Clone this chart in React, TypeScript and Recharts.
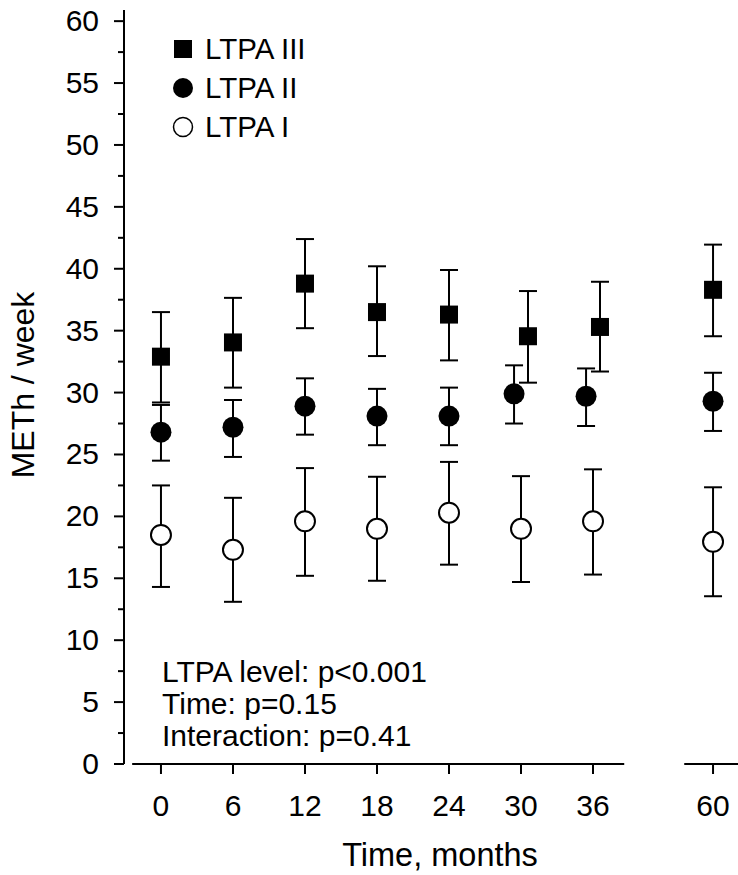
import React from "react";
import {
  ScatterChart,
  Scatter,
  XAxis,
  YAxis,
  ErrorBar,
  ReferenceLine,
  Legend,
} from "recharts";

const FONT = '"Liberation Sans", Arial, Helvetica, sans-serif';

// months of follow-up
const months = [0, 6, 12, 18, 24, 30, 36, 60];

// LTPA III (filled squares): mean and error bar ends
const ltpa3Mean = [32.9, 34.05, 38.8, 36.5, 36.3, 34.55, 35.3, 38.3];
const ltpa3Low = [29.2, 30.4, 35.2, 32.95, 32.6, 30.8, 31.7, 34.55];
const ltpa3High = [36.5, 37.65, 42.4, 40.2, 39.9, 38.2, 38.95, 41.95];

// LTPA II (filled circles)
const ltpa2Mean = [26.8, 27.2, 28.9, 28.1, 28.1, 29.9, 29.7, 29.3];
const ltpa2Low = [24.5, 24.8, 26.6, 25.75, 25.75, 27.5, 27.3, 26.9];
const ltpa2High = [29.0, 29.4, 31.15, 30.3, 30.4, 32.2, 31.95, 31.6];

// LTPA I (open circles)
const ltpa1Mean = [18.5, 17.3, 19.6, 19.0, 20.3, 19.0, 19.6, 17.95];
const ltpa1Low = [14.3, 13.1, 15.2, 14.8, 16.1, 14.7, 15.3, 13.55];
const ltpa1High = [22.5, 21.5, 23.9, 23.2, 24.4, 23.25, 23.8, 22.35];

const yTicks = [
  0, 2.5, 5, 7.5, 10, 12.5, 15, 17.5, 20, 22.5, 25, 27.5, 30, 32.5, 35, 37.5,
  40, 42.5, 45, 47.5, 50, 52.5, 55, 57.5, 60,
];

const legendLabels = ["LTPA III", "LTPA II", "LTPA I"];
const statsLines = [
  "LTPA level: p<0.001",
  "Time: p=0.15",
  "Interaction: p=0.41",
];

// broken x axis: everything after 36 months is squeezed
const BREAK_AT = 36;
const BREAK_SQUEEZE = 10 / 24;
const pos = (m: number) =>
  m <= BREAK_AT ? m : BREAK_AT + (m - BREAK_AT) * BREAK_SQUEEZE;
const X_DOMAIN: [number, number] = [-3.08, 48.08];
const axisSegments = [
  [-2.4, 38.6],
  [43.6, 48.08],
];

// overlapping groups get nudged sideways
const DODGED = [30, 36];
const DODGE = 0.58;

const build = (mean: number[], low: number[], high: number[], side: number) =>
  months.map((m, i) => ({
    x: pos(m) + (DODGED.includes(m) ? side * DODGE : 0),
    y: mean[i],
    err: [mean[i] - low[i], high[i] - mean[i]],
  }));

const ltpa3 = build(ltpa3Mean, ltpa3Low, ltpa3High, 1);
const ltpa2 = build(ltpa2Mean, ltpa2Low, ltpa2High, -1);
const ltpa1 = build(ltpa1Mean, ltpa1Low, ltpa1High, 0);

const xTicks = months.map(pos);
const monthLabel = (v: number) => {
  const m = months.find((mm) => Math.abs(pos(mm) - v) < 1e-6);
  return m === undefined ? "" : String(m);
};

const SquareShape = (p: any) => (
  <rect x={p.cx - 9} y={p.cy - 9} width={18} height={18} fill="#000" />
);
const DotShape = (p: any) => <circle cx={p.cx} cy={p.cy} r={10.5} fill="#000" />;
const OpenShape = (p: any) => (
  <circle cx={p.cx} cy={p.cy} r={10} fill="#fff" stroke="#000" strokeWidth={2} />
);

const YTick = (p: any) => {
  const v = p.payload.value;
  const major = v % 5 === 0;
  return (
    <g>
      <line
        x1={p.x - (major ? 10 : 6)}
        x2={p.x}
        y1={p.y}
        y2={p.y}
        stroke="#000"
        strokeWidth={2}
      />
      {major && (
        <text
          x={p.x - 25}
          y={p.y + 10}
          textAnchor="end"
          fontSize={30}
          fontFamily={FONT}
          fill="#000"
        >
          {v}
        </text>
      )}
    </g>
  );
};

const XTick = (p: any) => (
  <g>
    <line x1={p.x} x2={p.x} y1={p.y} y2={p.y + 10} stroke="#000" strokeWidth={2} />
    <text
      x={p.x}
      y={p.y + 52}
      textAnchor="middle"
      fontSize={30}
      fontFamily={FONT}
      fill="#000"
    >
      {monthLabel(p.payload.value)}
    </text>
  </g>
);

const LegendBox = () => {
  const rows = [49, 88, 127];
  return (
    <svg width={400} height={150} style={{ display: "block" }}>
      <rect x={174} y={rows[0] - 9} width={18} height={18} fill="#000" />
      <circle cx={183} cy={rows[1]} r={10} fill="#000" />
      <circle cx={183} cy={rows[2]} r={9.5} fill="#fff" stroke="#000" strokeWidth={1.5} />
      {legendLabels.map((t, i) => (
        <text
          key={t}
          x={205}
          y={rows[i] + 10}
          fontSize={29.5}
          fontFamily={FONT}
          fill="#000"
        >
          {t}
        </text>
      ))}
    </svg>
  );
};

export default function App() {
  return (
    <div
      style={{
        position: "absolute",
        left: 0,
        top: 0,
        width: 738,
        height: 875,
        background: "#fff",
        fontFamily: FONT,
      }}
    >
      <ScatterChart
        width={738}
        height={875}
        margin={{ top: 10, right: 0, bottom: 0, left: 0 }}
      >
        <XAxis
          type="number"
          dataKey="x"
          domain={X_DOMAIN}
          ticks={xTicks}
          interval={0}
          allowDataOverflow
          axisLine={false}
          tickLine={false}
          tickSize={0}
          tickMargin={0}
          height={111}
          tick={XTick}
        />
        <YAxis
          type="number"
          dataKey="y"
          domain={[0, 60.9]}
          ticks={yTicks}
          interval={0}
          allowDataOverflow
          axisLine={{ stroke: "#000", strokeWidth: 2 }}
          tickLine={false}
          tickSize={0}
          tickMargin={0}
          width={124}
          tick={YTick}
        />
        {axisSegments.map(([a, b]) => (
          <ReferenceLine
            key={a}
            segment={[
              { x: a, y: 0 },
              { x: b, y: 0 },
            ]}
            stroke="#000"
            strokeWidth={2}
            ifOverflow="visible"
          />
        ))}
        <Scatter
          name="LTPA I"
          data={ltpa1}
          shape={OpenShape}
          isAnimationActive={false}
        >
          <ErrorBar
            dataKey="err"
            direction="y"
            width={9}
            stroke="#000"
            strokeWidth={2}
            isAnimationActive={false}
          />
        </Scatter>
        <Scatter
          name="LTPA II"
          data={ltpa2}
          shape={DotShape}
          isAnimationActive={false}
        >
          <ErrorBar
            dataKey="err"
            direction="y"
            width={9}
            stroke="#000"
            strokeWidth={2}
            isAnimationActive={false}
          />
        </Scatter>
        <Scatter
          name="LTPA III"
          data={ltpa3}
          shape={SquareShape}
          isAnimationActive={false}
        >
          <ErrorBar
            dataKey="err"
            direction="y"
            width={9}
            stroke="#000"
            strokeWidth={2}
            isAnimationActive={false}
          />
        </Scatter>
        <Legend
          layout="horizontal"
          verticalAlign="middle"
          align="center"
          content={LegendBox}
          wrapperStyle={{ left: 0, top: 0, width: 400, height: 150 }}
        />
      </ScatterChart>
      <svg
        width={738}
        height={875}
        style={{ position: "absolute", left: 0, top: 0, pointerEvents: "none" }}
      >
        <text
          x={34}
          y={385}
          transform="rotate(-90, 34, 385)"
          textAnchor="middle"
          fontSize={32}
          fontFamily={FONT}
          fill="#000"
        >
          METh / week
        </text>
        <text
          x={440}
          y={866}
          textAnchor="middle"
          fontSize={32.5}
          fontFamily={FONT}
          fill="#000"
        >
          Time, months
        </text>
        {statsLines.map((t, i) => (
          <text
            key={t}
            x={162}
            y={682 + i * 32}
            fontSize={30}
            fontFamily={FONT}
            fill="#000"
          >
            {t}
          </text>
        ))}
      </svg>
    </div>
  );
}
